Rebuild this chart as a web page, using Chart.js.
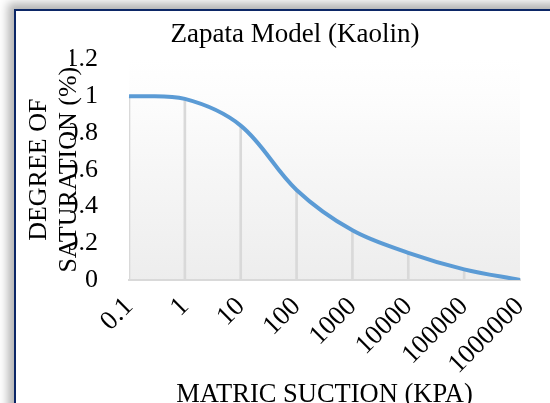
<!DOCTYPE html>
<html>
<head>
<meta charset="utf-8">
<script src="https://cdn.jsdelivr.net/npm/chart.js@4"></script>
<style>
  body { margin: 0; background: #fff; width: 550px; height: 403px; overflow: hidden; position: relative; }
  #frame {
    position: absolute; left: 14px; top: 9px; width: 600px; height: 450px;
    border-left: 2px solid #0c2766; border-top: 2px solid #0c2766;
    background: #fff;
    box-shadow: -4px -4px 9px 2px rgba(0, 0, 0, 0.3);
  }
  #wrap { position: absolute; left: 0; top: 0; width: 550px; height: 403px; }
</style>
</head>
<body>
<div id="frame"></div>
<div id="wrap"><canvas id="zapataChart" width="550" height="403"></canvas></div>
<script>
const suctionLabels = ['0.1', '1', '10', '100', '1000', '10000', '100000', '1000000'];
const saturation = [1.0, 0.985, 0.84, 0.49, 0.27, 0.148, 0.058, 0.0];
const yTicks = [0, 0.2, 0.4, 0.6, 0.8, 1, 1.2];

const serif = '"Liberation Serif", "Times New Roman", serif';

// gradient behind the plot area
const plotBackground = {
  id: 'plotBackground',
  beforeDraw(chart) {
    const { ctx, chartArea } = chart;
    const g = ctx.createLinearGradient(0, chartArea.top, 0, chartArea.bottom);
    g.addColorStop(0, '#ffffff');
    g.addColorStop(0.15, '#fdfdfd');
    g.addColorStop(1, '#ededed');
    ctx.save();
    ctx.fillStyle = g;
    ctx.fillRect(chartArea.left, chartArea.top, chartArea.width, chartArea.height);
    ctx.restore();
  }
};

const ctx = document.getElementById('zapataChart').getContext('2d');

new Chart(ctx, {
  type: 'line',
  data: {
    labels: suctionLabels,
    datasets: [{
      label: 'Zapata',
      data: saturation,
      borderColor: '#5b9bd5',
      borderWidth: 4,
      pointRadius: 0,
      tension: 0.35,
      fill: false,
      order: 1
    }, {
      // drop lines
      type: 'bar',
      label: 'drop',
      data: saturation,
      backgroundColor: '#d9d9d9',
      barThickness: 2,
      order: 2
    }]
  },
  options: {
    responsive: false,
    animation: false,
    layout: { padding: { left: 70, right: 30, top: 0, bottom: 0 } },
    plugins: {
      legend: { display: false },
      tooltip: { enabled: false },
      title: {
        display: true,
        text: 'Zapata Model (Kaolin)',
        color: '#000',
        font: { family: serif, size: 27, weight: 'normal', lineHeight: 1.2 },
        padding: { top: 19, bottom: 8 }
      }
    },
    scales: {
      x: {
        offset: false,
        grid: { display: false, offset: false },
        border: { display: true, color: '#d9d9d9', width: 2 },
        ticks: {
          color: '#000',
          font: { family: serif, size: 27 },
          minRotation: 45,
          maxRotation: 45,
          padding: 3
        },
        title: {
          display: true,
          text: 'MATRIC SUCTION (KPA)',
          color: '#000',
          font: { family: serif, size: 26.5, lineHeight: 1.2 },
          padding: { top: 0, bottom: -8 }
        },
        afterFit(scale) { scale.height = 123; }
      },
      y: {
        min: 0,
        max: 1.2,
        grid: { display: false },
        border: { display: false },
        afterBuildTicks(scale) { scale.ticks = yTicks.map(v => ({ value: v })); },
        ticks: {
          color: '#000',
          font: { family: serif, size: 26 },
          padding: 23,
          callback: v => String(+v.toFixed(1))
        },
        title: {
          display: true,
          text: ['DEGREE OF', 'SATURATION (%)'],
          color: '#000',
          font: { family: serif, size: 26, lineHeight: 1.15 },
          padding: { top: -46, bottom: 0 }
        },
        afterFit(scale) { scale.width = 59; }
      }
    }
  },
  plugins: [plotBackground]
});
</script>
</body>
</html>
